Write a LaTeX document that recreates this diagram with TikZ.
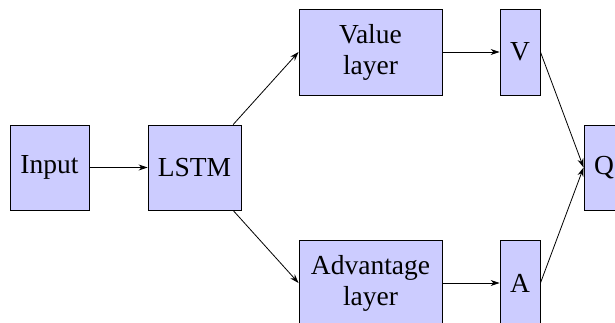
\documentclass[tikz,border=0pt]{standalone}
\usepackage{fontspec}
\setmainfont{Liberation Serif}
\usetikzlibrary{arrows.meta}
\begin{document}
\begin{tikzpicture}[x=1pt,y=-1pt,
  block/.style={draw=black, fill=blue!20, line width=0.9pt, inner sep=0pt,
    align=center, font=\fontsize{27.5}{31}\selectfont},
  link/.style={-{Stealth[length=9pt,width=6pt]}, line width=0.8pt}]
  \useasboundingbox (0,0) rectangle (615,322);
  % first stage
  \node[block, minimum width=79pt, minimum height=85pt] (input) at (49.5,167.5) {Input};
  \node[block, minimum width=93pt, minimum height=85pt] (lstm) at (194.5,167.5) {LSTM};
  % value and advantage streams
  \node[block, minimum width=143pt, minimum height=86pt] (value) at (370.5,52) {Value\\layer};
  \node[block, minimum width=143pt, minimum height=86pt] (adv) at (370.5,283) {Advantage\\layer};
  \node[block, minimum width=40pt, minimum height=86pt] (v) at (520,52) {V};
  \node[block, minimum width=40pt, minimum height=86pt] (a) at (520,283) {A};
  % output
  \node[block, minimum width=40pt, minimum height=85pt] (q) at (604,167.5) {Q};
  % connections
  \draw[link] (input) -- (lstm);
  \draw[link] (lstm) -- (value.west);
  \draw[link] (lstm) -- (adv.west);
  \draw[link] (value) -- (v);
  \draw[link] (adv) -- (a);
  \draw[link] (v.east) -- (q.west);
  \draw[link] (a.east) -- (q.west);
\end{tikzpicture}
\end{document}
